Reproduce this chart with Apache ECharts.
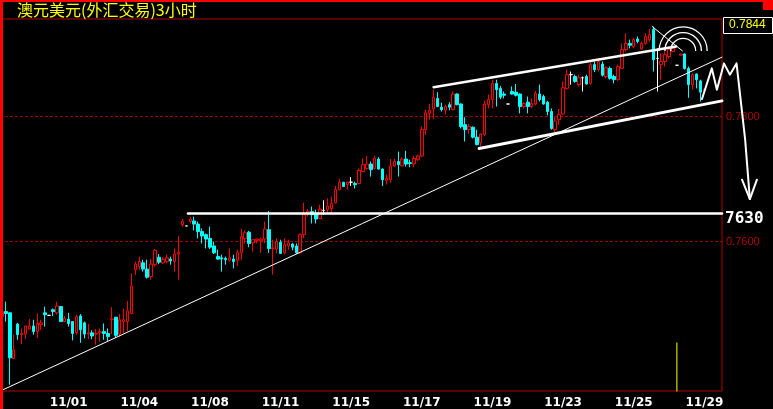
<!DOCTYPE html>
<html><head><meta charset="utf-8">
<script src="https://cdn.jsdelivr.net/npm/echarts@6/dist/echarts.min.js"></script>
<style>html,body{margin:0;padding:0;background:#000;}#c{width:773px;height:409px;}</style>
</head><body><div id="c"></div>
<script>
// ---------------- data ----------------
const chartTitle = '澳元美元(外汇交易)3小时';
// [open, close, low, high] per 3-hour bar
const candles = [
[0.7480,0.7488,0.7480,0.7489],[0.7488,0.7485,0.7472,0.7504],[0.7486,0.7414,0.7371,0.7487],[0.7413,0.7427,0.7412,0.7451],
[0.7468,0.7451,0.7443,0.7470],[0.7451,0.7453,0.7436,0.7461],[0.7452,0.7465,0.7444,0.7465],[0.7460,0.7465,0.7459,0.7476],
[0.7465,0.7456,0.7451,0.7475],[0.7456,0.7469,0.7446,0.7485],[0.7467,0.7470,0.7459,0.7475],[0.7486,0.7483,0.7464,0.7496],
[0.7482,0.7482,0.7482,0.7482],[0.7491,0.7488,0.7481,0.7493],[0.7486,0.7497,0.7483,0.7504],[0.7496,0.7472,0.7472,0.7497],
[0.7472,0.7477,0.7472,0.7481],[0.7476,0.7469,0.7464,0.7486],[0.7472,0.7453,0.7442,0.7472],[0.7454,0.7480,0.7451,0.7483],
[0.7481,0.7459,0.7438,0.7484],[0.7470,0.7452,0.7445,0.7472],[0.7452,0.7454,0.7444,0.7468],[0.7454,0.7449,0.7444,0.7458],
[0.7452,0.7453,0.7435,0.7460],[0.7454,0.7456,0.7440,0.7461],[0.7456,0.7453,0.7443,0.7469],[0.7453,0.7448,0.7441,0.7461],
[0.7475,0.7476,0.7452,0.7495],[0.7479,0.7450,0.7446,0.7479],[0.7452,0.7475,0.7448,0.7484],[0.7472,0.7475,0.7453,0.7493],
[0.7472,0.7489,0.7457,0.7505],[0.7485,0.7529,0.7484,0.7549],[0.7555,0.7564,0.7547,0.7568],[0.7560,0.7568,0.7555,0.7576],
[0.7566,0.7556,0.7552,0.7571],[0.7556,0.7543,0.7541,0.7571],[0.7544,0.7564,0.7539,0.7572],[0.7563,0.7586,0.7560,0.7588],
[0.7575,0.7567,0.7564,0.7580],[0.7566,0.7571,0.7564,0.7575],[0.7568,0.7574,0.7565,0.7579],[0.7572,0.7569,0.7563,0.7576],
[0.7568,0.7580,0.7552,0.7589],[0.7580,0.7583,0.7539,0.7609],[0.7627,0.7632,0.7624,0.7636],[0.7625,0.7625,0.7625,0.7625],
[0.7632,0.7636,0.7629,0.7640],[0.7633,0.7628,0.7618,0.7640],[0.7628,0.7616,0.7605,0.7632],[0.7616,0.7609,0.7597,0.7621],
[0.7611,0.7604,0.7589,0.7613],[0.7605,0.7591,0.7588,0.7624],[0.7593,0.7582,0.7580,0.7600],[0.7576,0.7572,0.7571,0.7587],
[0.7574,0.7572,0.7552,0.7579],[0.7573,0.7571,0.7563,0.7576],[0.7570,0.7574,0.7568,0.7589],[0.7572,0.7568,0.7557,0.7579],
[0.7570,0.7583,0.7561,0.7587],[0.7582,0.7608,0.7571,0.7620],[0.7605,0.7614,0.7597,0.7618],[0.7615,0.7597,0.7591,0.7617],
[0.7598,0.7603,0.7584,0.7604],[0.7602,0.7604,0.7597,0.7605],[0.7601,0.7604,0.7582,0.7605],[0.7604,0.7620,0.7597,0.7632],
[0.7619,0.7589,0.7582,0.7649],[0.7589,0.7590,0.7547,0.7603],[0.7588,0.7600,0.7581,0.7605],[0.7599,0.7581,0.7580,0.7603],
[0.7582,0.7595,0.7580,0.7605],[0.7593,0.7598,0.7587,0.7603],[0.7596,0.7591,0.7586,0.7598],[0.7593,0.7582,0.7580,0.7597],
[0.7582,0.7611,0.7581,0.7613],[0.7611,0.7643,0.7605,0.7662],[0.7645,0.7648,0.7640,0.7652],[0.7648,0.7643,0.7629,0.7656],
[0.7645,0.7636,0.7629,0.7651],[0.7637,0.7652,0.7636,0.7659],[0.7650,0.7650,0.7643,0.7666],[0.7651,0.7657,0.7645,0.7669],
[0.7653,0.7661,0.7646,0.7672],[0.7662,0.7683,0.7661,0.7689],[0.7683,0.7695,0.7682,0.7700],[0.7695,0.7688,0.7688,0.7695],
[0.7691,0.7695,0.7683,0.7696],[0.7695,0.7695,0.7689,0.7703],[0.7693,0.7691,0.7685,0.7696],[0.7693,0.7714,0.7692,0.7717],
[0.7712,0.7723,0.7711,0.7733],[0.7717,0.7724,0.7715,0.7737],[0.7724,0.7715,0.7704,0.7728],[0.7717,0.7733,0.7716,0.7737],
[0.7732,0.7716,0.7715,0.7735],[0.7716,0.7699,0.7689,0.7717],[0.7698,0.7701,0.7691,0.7707],[0.7699,0.7721,0.7694,0.7732],
[0.7721,0.7728,0.7719,0.7732],[0.7728,0.7723,0.7704,0.7744],[0.7721,0.7732,0.7720,0.7735],[0.7732,0.7724,0.7720,0.7745],
[0.7726,0.7725,0.7719,0.7731],[0.7724,0.7733,0.7719,0.7737],[0.7731,0.7737,0.7729,0.7739],[0.7737,0.7779,0.7735,0.7784],
[0.7779,0.7806,0.7771,0.7811],[0.7805,0.7810,0.7795,0.7820],[0.7812,0.7831,0.7796,0.7843],[0.7829,0.7816,0.7815,0.7839],
[0.7815,0.7811,0.7808,0.7822],[0.7810,0.7816,0.7803,0.7819],[0.7819,0.7815,0.7810,0.7823],[0.7811,0.7836,0.7810,0.7840],
[0.7836,0.7819,0.7818,0.7837],[0.7820,0.7784,0.7781,0.7821],[0.7787,0.7779,0.7760,0.7799],[0.7779,0.7784,0.7772,0.7788],
[0.7783,0.7767,0.7765,0.7784],[0.7767,0.7755,0.7754,0.7779],[0.7758,0.7772,0.7752,0.7773],[0.7771,0.7820,0.7769,0.7825],
[0.7819,0.7827,0.7813,0.7835],[0.7827,0.7853,0.7813,0.7859],[0.7853,0.7843,0.7816,0.7859],[0.7845,0.7831,0.7828,0.7849],
[0.7836,0.7834,0.7829,0.7840],[0.7820,0.7820,0.7820,0.7820],[0.7840,0.7836,0.7835,0.7848],[0.7839,0.7834,0.7832,0.7852],
[0.7836,0.7816,0.7805,0.7837],[0.7816,0.7821,0.7813,0.7823],[0.7823,0.7816,0.7805,0.7832],[0.7816,0.7821,0.7813,0.7829],
[0.7820,0.7837,0.7818,0.7841],[0.7836,0.7827,0.7824,0.7851],[0.7832,0.7820,0.7819,0.7835],[0.7823,0.7808,0.7802,0.7825],
[0.7808,0.7781,0.7779,0.7813],[0.7779,0.7793,0.7775,0.7800],[0.7795,0.7803,0.7787,0.7812],[0.7804,0.7846,0.7803,0.7856],
[0.7845,0.7867,0.7843,0.7875],[0.7867,0.7867,0.7851,0.7872],[0.7864,0.7856,0.7854,0.7867],[0.7851,0.7862,0.7848,0.7867],
[0.7862,0.7862,0.7840,0.7864],[0.7864,0.7852,0.7851,0.7867],[0.7853,0.7883,0.7851,0.7888],[0.7883,0.7875,0.7871,0.7888],
[0.7875,0.7888,0.7872,0.7893],[0.7884,0.7866,0.7864,0.7888],[0.7864,0.7878,0.7861,0.7880],[0.7877,0.7861,0.7859,0.7880],
[0.7864,0.7859,0.7853,0.7867],[0.7859,0.7880,0.7857,0.7883],[0.7877,0.7907,0.7876,0.7917],[0.7907,0.7917,0.7904,0.7933],
[0.7917,0.7914,0.7909,0.7923],[0.7912,0.7923,0.7909,0.7926],[0.7924,0.7920,0.7917,0.7928],[0.7908,0.7917,0.7907,0.7920],
[0.7917,0.7928,0.7915,0.7933],[0.7923,0.7931,0.7920,0.7940],[0.7939,0.7891,0.7872,0.7944],[0.7893,0.7893,0.7840,0.7909],
[0.7883,0.7888,0.7859,0.7901],[0.7888,0.7899,0.7880,0.7904],[0.7896,0.7907,0.7893,0.7912],[0.7904,0.7909,0.7903,0.7912],
[0.7882,0.7882,0.7882,0.7882],[0.7898,0.7900,0.7898,0.7900],[0.7900,0.7877,0.7875,0.7901],[0.7877,0.7851,0.7830,0.7880],
[0.7851,0.7867,0.7843,0.7869],[0.7868,0.7859,0.7845,0.7869],[0.7857,0.7839,0.7824,0.7859],[0.7842,0.7844,0.7842,0.7844]
];
const dateLabels = ['11/01','11/04','11/08','11/11','11/15','11/17','11/19','11/23','11/25','11/29'];
const priceTicks = [0.76, 0.78];
const priceMin = 0.7361, priceMax = 0.7956;
const lastPrice = 0.7844;
// hand-drawn annotations, as [bar index, price]
const trendLine    = [[0.27,0.7363],[183.5,0.7895]];
const supportLine  = [[47.4,0.7645],[183.5,0.7645]];
const channelUpper = [[110.0,0.7847],[171.8,0.7912]];
const channelLower = [[121.6,0.7749],[183.5,0.7825]];
const pointerLine  = [[165.7,0.7944],[173.4,0.7905]];
const zigzagPath   = [[178.4,0.7828],[180.9,0.7877],[182.2,0.7843],[184.0,0.7885],[185.5,0.7867],[187.2,0.7885],[189.4,0.7763],[190.6,0.7668]];
const arrowHead    = [[188.6,0.7699],[190.6,0.7668],[192.4,0.7699]];
const arcCenter    = [173.6,0.7905];
const cursorLine   = [[172,0.7361],[172,0.7438]];
const supportNote  = '7630';

// ---------------- layout / style ----------------
const slots = 184, firstLabelBar = 17, labelEvery = 18;
const arcRadii = [12.5, 18.3, 24];
const categories = Array.from({length: slots}, (_, i) => String(i));
const isLabelBar = i => i >= firstLabelBar && (i - firstLabelBar) % labelEvery === 0;
const WHITE = {color:'#ffffff', color0:'#ffffff', borderColor:'#ffffff', borderColor0:'#ffffff'};
const candleData = candles.map(c => c[0] === c[1] ? {value: c, itemStyle: WHITE} : c);

function annot(data, width, color) {
  return {type:'line', xAxisIndex:1, yAxisIndex:0, data, symbol:'none', silent:true, clip:false,
    animation:false, z:5, lineStyle:{color: color || '#ffffff', width, cap:'round', join:'round'}};
}
// free-hand polylines that run past the plot edge: drawn with a custom series (not clipped)
function freehand(paths, width) {
  return {type:'custom', xAxisIndex:1, yAxisIndex:0, data:[0], silent:true, animation:false, z:6, clip:false,
    renderItem:(params, api) => ({type:'group', children: paths.map(p => ({type:'polyline',
      shape:{points: p.map(pt => api.coord(pt))},
      style:{stroke:'#ffffff', fill:null, lineWidth:width, lineCap:'round', lineJoin:'round'}}))})};
}

const chart = echarts.init(document.getElementById('c'), null, {renderer:'canvas'});
chart.setOption({
  backgroundColor:'#000000',
  animation:false,
  title:{text: chartTitle, left:17, top:2, padding:0,
    textStyle:{color:'#ffff00', fontSize:16, fontWeight:'normal', fontFamily:'Noto Sans CJK SC'}},
  grid:{left:0, top:19, width:722, height:372, show:true, borderColor:'#b00000', borderWidth:1, backgroundColor:'transparent'},
  xAxis:[
    {type:'category', data:categories, boundaryGap:true,
     axisLine:{show:false}, axisTick:{show:false}, splitLine:{show:false},
     axisLabel:{color:'#ffffff', fontWeight:'bold', fontSize:12, fontFamily:'DejaVu Sans', margin:6,
       interval:(i) => isLabelBar(i),
       formatter:(v, i) => isLabelBar(i) ? (dateLabels[(i - firstLabelBar) / labelEvery] || '') : ''}},
    {type:'value', min:-0.5, max:slots - 0.5, show:false}
  ],
  yAxis:{type:'value', position:'right', min:priceMin, max:priceMax,
    axisLine:{show:false},
    axisTick:{show:false, customValues:priceTicks},
    axisLabel:{customValues:priceTicks, color:'#b00000', fontSize:11, fontFamily:'Liberation Sans', margin:4,
      formatter:v => v.toFixed(4)},
    splitLine:{show:true, lineStyle:{color:'#a00000', width:1, type:[3,2]}}},
  series:[
    {type:'candlestick', data:candleData, barWidth:3, silent:true, animation:false, z:3,
     itemStyle:{color:'#000000', color0:'#00ffff', borderColor:'#ff0000', borderColor0:'#00ffff', borderWidth:1}},
    annot(trendLine, 1),
    annot(supportLine, 2.5),
    annot(channelUpper, 2.5),
    annot(channelLower, 3),
    annot(pointerLine, 1),
    annot(cursorLine, 1, '#ffff00'),
    freehand([zigzagPath, arrowHead], 2),
    {type:'custom', xAxisIndex:1, yAxisIndex:0, data:[arcCenter], silent:true, animation:false, z:6,
     renderItem:(params, api) => {
       const c = api.coord([api.value(0), api.value(1)]);
       return {type:'group', children: arcRadii.map(r => ({type:'arc',
         shape:{cx:c[0], cy:c[1], r, startAngle:Math.PI, endAngle:2*Math.PI},
         style:{stroke:'#ffffff', fill:null, lineWidth:1.3}}))};
     }}
  ],
  graphic:[
    {type:'rect', left:0, top:0, shape:{width:3, height:409}, style:{fill:'#ff0000'}, z:100},
    {type:'rect', left:0, top:0, shape:{width:773, height:2}, style:{fill:'#ff0000'}, z:100},
    {type:'rect', left:763, top:0, shape:{width:10, height:10}, style:{fill:'#ff0000'}, z:100},
    {type:'rect', left:723, top:17, shape:{width:49, height:16}, style:{fill:'#000000', stroke:'#ffffff', lineWidth:1}, z:100},
    {type:'text', left:729, top:19, style:{text: lastPrice.toFixed(4), fill:'#ffff00', font:'12px "Liberation Sans"'}, z:101},
    {type:'text', left:725, top:211, style:{text: supportNote, fill:'#ffffff', font:'bold 16px "DejaVu Sans Mono"'}, z:101}
  ]
});
</script></body></html>
